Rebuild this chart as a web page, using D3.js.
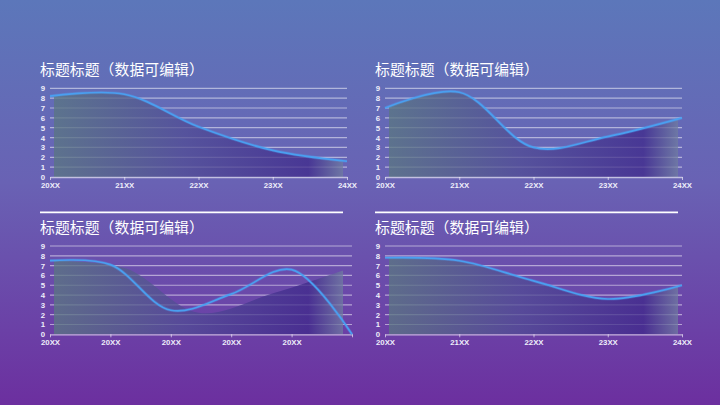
<!DOCTYPE html>
<html>
<head>
<meta charset="utf-8">
<script src="https://cdn.jsdelivr.net/npm/d3@7"></script>
<style>
  html, body { margin: 0; padding: 0; }
  body { width: 720px; height: 405px; overflow: hidden; }
</style>
</head>
<body>
<script>
// chart values
var titleText = "标题标题（数据可编辑）";
var yTicks = [0, 1, 2, 3, 4, 5, 6, 7, 8, 9];
var yearCats = ["20XX", "21XX", "22XX", "23XX", "24XX"];
var sameCats = ["20XX", "20XX", "20XX", "20XX", "20XX", ""];
var areaCats = ["a", "b", "c", "d", "e"];

var valsTL = [8.2, 8.4, 5.1, 2.7, 1.6];
var valsTR = [7.0, 8.6, 3.0, 4.1, 6.0];
var valsBLLine = [7.5, 7.1, 2.45, 4.1, 6.6, 0];
var valsBLArea = [7.5, 6.7, 2.2, 4.1, 6.5];
var valsBR = [7.8, 7.5, 5.45, 3.6, 5.0];

var W = 720, H = 405;

var svg = d3.select("body").append("svg")
    .attr("width", W)
    .attr("height", H);

var defs = svg.append("defs");

var bg = defs.append("linearGradient")
    .attr("id", "bg").attr("x1", 0).attr("y1", 0).attr("x2", 0).attr("y2", 1);
bg.append("stop").attr("offset", "0%").attr("stop-color", "#5c77ba");
bg.append("stop").attr("offset", "45%").attr("stop-color", "#6962b4");
bg.append("stop").attr("offset", "100%").attr("stop-color", "#6c2f9f");

// horizontal fill of the areas
var areaStops = [
  { o: "0%", c: "rgb(90,118,130)", a: 0.78 },
  { o: "45%", c: "rgb(80,76,148)", a: 0.75 },
  { o: "88%", c: "rgb(62,40,138)", a: 0.75 },
  { o: "100%", c: "rgb(112,125,160)", a: 0.75 }
];

svg.append("rect").attr("width", W).attr("height", H).attr("fill", "url(#bg)");

var panels = [
  { id: "tl", x0: 50, x1: 347, yTop: 88.3, yBot: 177, tx: 40, ty: 75, sep: false,
    cats: yearCats, line: valsTL, areaCats: yearCats, area: valsTL, ax0: 54, ax1: 343 },
  { id: "tr", x0: 385, x1: 682, yTop: 88.3, yBot: 177, tx: 375, ty: 75, sep: false,
    cats: yearCats, line: valsTR, areaCats: yearCats, area: valsTR, ax0: 389, ax1: 678 },
  { id: "bl", x0: 50, x1: 352, yTop: 246, yBot: 334.3, tx: 40, ty: 233, sep: true,
    cats: sameCats, line: valsBLLine, areaCats: areaCats, area: valsBLArea, ax0: 54, ax1: 343 },
  { id: "br", x0: 385, x1: 682, yTop: 246, yBot: 334.3, tx: 375, ty: 233, sep: true,
    cats: yearCats, line: valsBR, areaCats: yearCats, area: valsBR, ax0: 389, ax1: 678 }
];

panels.forEach(function(p) {
  var g = svg.append("g");

  var x = d3.scalePoint().domain(d3.range(p.cats.length)).range([p.x0, p.x1]);
  var y = d3.scaleLinear().domain([0, 9]).range([p.yBot, p.yTop]);

  // the area in the bottom-left chart is its own series
  var xa = p.areaCats === p.cats ? x
    : d3.scalePoint().domain(d3.range(p.areaCats.length)).range([p.ax0, p.ax1]);

  if (p.sep) {
    g.append("line")
      .attr("x1", p.tx).attr("x2", p.ax1)
      .attr("y1", p.ty - 20.7).attr("y2", p.ty - 20.7)
      .attr("stroke", "#ffffff").attr("stroke-width", 1.8);
  }

  g.append("text")
    .attr("x", p.tx).attr("y", p.ty)
    .attr("fill", "#ffffff")
    .style("font-family", "'Noto Sans CJK SC', sans-serif")
    .style("font-size", "14.8px")
    .style("letter-spacing", "0.1px")
    .text(titleText);

  // grid lines
  g.append("g").selectAll("line")
    .data(yTicks.filter(function(d) { return d > 0; }))
    .enter().append("line")
    .attr("x1", p.x0).attr("x2", p.x1)
    .attr("y1", function(d) { return y(d); })
    .attr("y2", function(d) { return y(d); })
    .attr("stroke", "rgba(255,255,255,0.5)")
    .attr("stroke-width", 1.2);

  // area, clipped a little inside the axis ends
  var clipId = "clip-" + p.id;
  defs.append("clipPath").attr("id", clipId)
    .append("rect")
    .attr("x", p.ax0).attr("y", p.yTop - 20)
    .attr("width", p.ax1 - p.ax0).attr("height", p.yBot - p.yTop + 20);

  var area = d3.area()
    .x(function(d, i) { return xa(i); })
    .y0(p.yBot)
    .y1(function(d) { return y(d); })
    .curve(d3.curveCatmullRom);

  var ag = defs.append("linearGradient")
    .attr("id", "ag-" + p.id)
    .attr("gradientUnits", "userSpaceOnUse")
    .attr("x1", p.ax0).attr("x2", p.ax1).attr("y1", 0).attr("y2", 0);
  ag.selectAll("stop").data(areaStops).enter().append("stop")
    .attr("offset", function(d) { return d.o; })
    .attr("stop-color", function(d) { return d.c; })
    .attr("stop-opacity", function(d) { return d.a; });

  g.append("path")
    .datum(p.area)
    .attr("d", area)
    .attr("clip-path", "url(#" + clipId + ")")
    .attr("fill", "url(#ag-" + p.id + ")");

  // x axis
  var xAxis = d3.axisBottom(x)
    .tickFormat(function(i) { return p.cats[i]; })
    .tickSize(3)
    .tickSizeOuter(0)
    .tickPadding(2.5);

  var gx = g.append("g")
    .attr("transform", "translate(0," + p.yBot + ")")
    .call(xAxis);
  gx.select(".domain").attr("stroke", "rgba(255,255,255,0.6)").attr("stroke-width", 1.3);
  gx.selectAll(".tick line").attr("stroke", "rgba(255,255,255,0.6)");
  gx.selectAll("text")
    .attr("fill", "#eeeefa")
    .style("font-family", "'Liberation Sans', Arial, sans-serif")
    .style("font-weight", "bold")
    .style("font-size", "7.8px");

  // y axis labels only
  var gy = g.append("g")
    .attr("transform", "translate(" + (p.x0 - 2) + ",0)")
    .call(d3.axisLeft(y).tickValues(yTicks).tickSize(0).tickPadding(3));
  gy.select(".domain").remove();
  gy.selectAll("text")
    .attr("fill", "#eeeefa")
    .style("font-family", "'Liberation Sans', Arial, sans-serif")
    .style("font-weight", "bold")
    .style("font-size", "7.8px");

  // line
  var line = d3.line()
    .x(function(d, i) { return x(i); })
    .y(function(d) { return y(d); })
    .curve(d3.curveCatmullRom);

  g.append("path")
    .datum(p.line)
    .attr("d", line)
    .attr("fill", "none")
    .attr("stroke", "rgba(80,170,255,0.25)")
    .attr("stroke-width", 3.2);

  g.append("path")
    .datum(p.line)
    .attr("d", line)
    .attr("fill", "none")
    .attr("stroke", "#4a9ff0")
    .attr("stroke-width", 1.7);
});
</script>
</body>
</html>
